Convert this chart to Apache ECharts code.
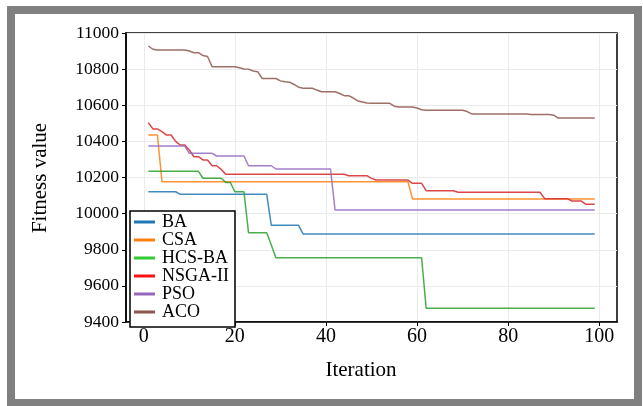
<!DOCTYPE html>
<html>
<head>
<meta charset="utf-8">
<script src="https://cdn.jsdelivr.net/npm/echarts@6/dist/echarts.min.js"></script>
<style>html,body{margin:0;padding:0;background:#fff;}#c{width:643px;height:406px;}</style>
</head>
<body>
<div id="c"></div>
<script>
const iterations = [1,2,3,4,5,6,7,8,9,10,11,12,13,14,15,16,17,18,19,20,21,22,23,24,25,26,27,28,29,30,31,32,33,34,35,36,37,38,39,40,41,42,43,44,45,46,47,48,49,50,51,52,53,54,55,56,57,58,59,60,61,62,63,64,65,66,67,68,69,70,71,72,73,74,75,76,77,78,79,80,81,82,83,84,85,86,87,88,89,90,91,92,93,94,95,96,97,98,99];

const seriesNames = ['BA','CSA','HCS-BA','NSGA-II','PSO','ACO'];

const BA = [
10121,10121,10121,10121,10121,10121,10121,10107,10107,10107,
10107,10107,10107,10107,10107,10107,10107,10107,10107,10107,
10107,10107,10107,10107,10107,10107,10107,9935,9935,9935,
9935,9935,9935,9935,9887,9887,9887,9887,9887,9887,
9887,9887,9887,9887,9887,9887,9887,9887,9887,9887,
9887,9887,9887,9887,9887,9887,9887,9887,9887,9887,
9887,9887,9887,9887,9887,9887,9887,9887,9887,9887,
9887,9887,9887,9887,9887,9887,9887,9887,9887,9887,
9887,9887,9887,9887,9887,9887,9887,9887,9887,9887,
9887,9887,9887,9887,9887,9887,9887,9887,9887];

const CSA = [
10435,10435,10435,10177,10177,10177,10177,10177,10177,10177,
10177,10177,10177,10177,10177,10177,10177,10177,10177,10177,
10177,10177,10177,10177,10177,10177,10177,10177,10177,10177,
10177,10177,10177,10177,10177,10177,10177,10177,10177,10177,
10177,10177,10177,10177,10177,10177,10177,10177,10177,10177,
10177,10177,10177,10177,10177,10177,10177,10177,10081,10081,
10081,10081,10081,10081,10081,10081,10081,10081,10081,10081,
10081,10081,10081,10081,10081,10081,10081,10081,10081,10081,
10081,10081,10081,10081,10081,10081,10081,10081,10081,10081,
10081,10081,10081,10081,10081,10081,10081,10081,10081];

const HCS_BA = [
10234,10234,10234,10234,10234,10234,10234,10234,10234,10234,
10234,10234,10196,10196,10196,10196,10196,10173,10173,10121,
10121,10121,9894,9894,9894,9894,9894,9826,9756,9756,
9756,9756,9756,9756,9756,9756,9756,9756,9756,9756,
9756,9756,9756,9756,9756,9756,9756,9756,9756,9756,
9756,9756,9756,9756,9756,9756,9756,9756,9756,9756,
9756,9476,9476,9476,9476,9476,9476,9476,9476,9476,
9476,9476,9476,9476,9476,9476,9476,9476,9476,9476,
9476,9476,9476,9476,9476,9476,9476,9476,9476,9476,
9476,9476,9476,9476,9476,9476,9476,9476,9476];

const NSGA_II = [
10503,10469,10469,10454,10435,10435,10400,10380,10380,10352,
10315,10315,10297,10297,10265,10265,10245,10218,10218,10218,
10218,10218,10218,10218,10218,10218,10218,10218,10218,10218,
10218,10218,10218,10218,10218,10218,10218,10218,10218,10218,
10218,10218,10218,10218,10210,10210,10210,10210,10210,10195,
10186,10186,10186,10186,10186,10186,10186,10186,10168,10168,
10168,10127,10127,10127,10127,10127,10127,10127,10118,10118,
10118,10118,10118,10118,10118,10118,10118,10118,10118,10118,
10118,10118,10118,10118,10118,10118,10118,10083,10083,10083,
10083,10083,10083,10070,10070,10070,10052,10052,10052];

const PSO = [
10374,10374,10374,10374,10374,10374,10374,10374,10374,10334,
10334,10334,10334,10334,10334,10319,10319,10319,10319,10319,
10319,10319,10265,10265,10265,10265,10265,10265,10247,10247,
10247,10247,10247,10247,10247,10247,10247,10247,10247,10247,
10247,10020,10020,10020,10020,10020,10020,10020,10020,10020,
10020,10020,10020,10020,10020,10020,10020,10020,10020,10020,
10020,10020,10020,10020,10020,10020,10020,10020,10020,10020,
10020,10020,10020,10020,10020,10020,10020,10020,10020,10020,
10020,10020,10020,10020,10020,10020,10020,10020,10020,10020,
10020,10020,10020,10020,10020,10020,10020,10020,10020];

const ACO = [
10928,10910,10906,10906,10906,10906,10906,10906,10906,10900,
10891,10891,10875,10870,10813,10813,10813,10813,10813,10813,
10808,10801,10800,10790,10786,10748,10748,10748,10748,10735,
10730,10728,10715,10700,10694,10694,10694,10684,10675,10675,
10675,10675,10665,10653,10653,10640,10624,10618,10612,10611,
10611,10611,10611,10611,10595,10590,10590,10590,10590,10585,
10575,10572,10572,10572,10572,10572,10572,10572,10572,10572,
10565,10552,10552,10552,10552,10552,10552,10552,10552,10552,
10552,10552,10552,10552,10549,10549,10549,10549,10549,10545,
10529,10529,10529,10529,10529,10529,10529,10529,10529];

const xTicks = [0,20,40,60,80,100];
const yTicks = [9400,9600,9800,10000,10200,10400,10600,10800,11000];

const lineColors = ['#1f77b4','#ff7f0e','#2ca02c','#d62728','#9467bd','#8c564b'];
const legendColors = ['#1f77b4','#ff7f0e','#33cc33','#ff1111','#9467bd','#8c564b'];
const allValues = [BA, CSA, HCS_BA, NSGA_II, PSO, ACO];

const FONT = "'Liberation Serif','Times New Roman',serif";

const chart = echarts.init(document.getElementById('c'), null, {renderer:'canvas'});
const option = {
  animation: false,
  backgroundColor: '#fff',
  graphic: [
    {type:'rect', shape:{x:11,y:10,width:627,height:393}, style:{fill:'none', stroke:'#808080', lineWidth:8}, z:0},
    {type:'text', x:361, y:370, style:{text:'Iteration', font:'21px ' + FONT, fill:'#000', textAlign:'center', textVerticalAlign:'middle'}},
    {type:'text', x:40, y:178, rotation:Math.PI/2, style:{text:'Fitness value', font:'21px ' + FONT, fill:'#000', textAlign:'center', textVerticalAlign:'middle'}}
  ],
  grid: {left:126, top:33, width:491, height:289, show:true, borderColor:'#000', borderWidth:1.5, backgroundColor:'transparent'},
  xAxis: {
    type:'value', min:-3.9, max:103.9,
    axisLine:{show:true, onZero:false, lineStyle:{color:'#000', width:1.5}},
    axisTick:{show:true, length:4, customValues:xTicks, lineStyle:{color:'#000', width:1}},
    axisLabel:{show:true, customValues:xTicks, fontSize:20, fontFamily:FONT, color:'#000', margin:5},
    splitLine:{show:true, lineStyle:{color:'#ebebeb', width:1}}
  },
  yAxis: {
    type:'value', min:yTicks[0], max:yTicks[yTicks.length-1], interval:200,
    axisLine:{show:true, onZero:false, lineStyle:{color:'#000', width:1.5}},
    axisTick:{show:true, length:4, lineStyle:{color:'#000', width:1}},
    axisLabel:{show:true, fontSize:17.5, fontFamily:FONT, color:'#000', margin:7, formatter:function(v){return String(v);}},
    splitLine:{show:true, lineStyle:{color:'#ebebeb', width:1}}
  },
  legend: {
    orient:'vertical', left:130, top:211,
    padding:[2,6,6,4], itemWidth:21, itemHeight:3, itemGap:0, icon:'rect',
    borderColor:'#000', borderWidth:1.5, backgroundColor:'#fff',
    textStyle:{fontSize:18, lineHeight:16.4, fontFamily:FONT, color:'#000', padding:[0,0,0,2]},
    data: seriesNames.map((n,i)=>({name:n, itemStyle:{color:legendColors[i]}}))
  },
  series: seriesNames.map((n,i)=>({
    name:n, type:'line', showSymbol:false, symbol:'none',
    color: lineColors[i],
    lineStyle:{width:1.5, color:lineColors[i], opacity:0.85},
    data: iterations.map((x,j)=>[x, allValues[i][j]])
  }))
};
chart.setOption(option);
</script>
</body>
</html>
